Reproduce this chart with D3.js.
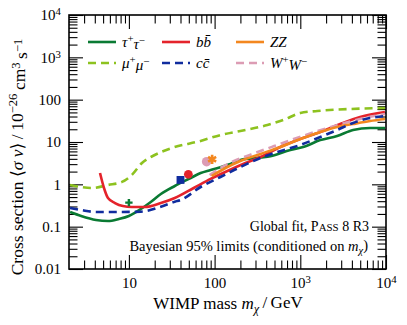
<!DOCTYPE html>
<html>
<head>
<meta charset="utf-8">
<script src="https://cdn.jsdelivr.net/npm/d3@7"></script>
<style>
  body { margin: 0; background: #fff; }
  text { font-family: "Liberation Serif", "DejaVu Serif", serif; }
</style>
</head>
<body>
<script>
const width = 407;
const height = 325;

// les courbes (masse en GeV, section efficace en 1e-26 cm3/s)
const tauMass = [2.06, 2.77, 4.13, 5.7, 7.65, 10, 13.8, 18, 23.6, 34.3, 52.6, 68.7, 89.8, 153, 200, 343, 448, 766, 1080, 1710, 2690, 4130, 6510, 9730];
const tauSv   = [0.222, 0.179, 0.144, 0.136, 0.152, 0.179, 0.261, 0.383, 0.591, 0.914, 1.41, 1.85, 2.18, 3.03, 3.76, 4.3, 4.6, 6.5, 7.6, 11.1, 13.9, 19.2, 21.4, 21.4];

const bbMass = [4.6, 5.12, 5.7, 6.88, 8.51, 10.8, 15.3, 23.6, 34.3, 57, 89.8, 141, 229, 343, 585, 1000, 1710, 2920, 4990, 9730];
const bbSv   = [1.85, 0.82, 0.475, 0.362, 0.307, 0.292, 0.292, 0.362, 0.475, 0.82, 1.34, 2.07, 3.19, 4.42, 7.62, 11.8, 17.2, 26.6, 39.0, 51.2];

const zzMass = [92.3, 134, 200, 343, 585, 1080, 1710, 2690, 4130, 6510, 9730];
const zzSv   = [1.57, 2.43, 3.56, 5.21, 7.62, 12.4, 17.2, 22.6, 26.6, 31.3, 35.0];

const muMass = [2.06, 2.77, 3.72, 5.7, 8.29, 10.8, 14.2, 20, 31.6, 68.7, 117, 200, 413, 634, 1000, 1580, 3810, 9730];
const muSv   = [0.964, 0.865, 0.82, 0.964, 1.14, 1.66, 3.19, 4.93, 7.21, 10.6, 14.6, 18.2, 25.2, 33.1, 48.4, 54.0, 60.2, 63.6];

const ccMass = [2.06, 2.77, 4.13, 7.45, 13.8, 23.6, 34.3, 40.2, 68.7, 117, 200, 343, 541, 1000, 1710, 2690, 4130, 6510, 9730];
const ccSv   = [0.276, 0.248, 0.222, 0.222, 0.226, 0.296, 0.389, 0.427, 0.865, 1.49, 2.57, 4.19, 5.81, 8.49, 13.1, 19.2, 28.1, 36.9, 41.1];

const wwMass = [87.5, 117, 166, 262, 486, 1080, 2690, 4990, 9730];
const wwSv   = [1.65, 2.45, 3.5, 5.0, 7.9, 14.0, 25.0, 35.0, 45.9];

// les meilleurs points (marqueurs)
const bestMass = [10, 40, 49.4, 80.7, 93.6];
const bestSv   = [0.37, 1.27, 1.73, 3.43, 3.9];

const xMajor = [10, 100, 1000, 10000];
const xLabels = ['10', '100', '10^3', '10^4'];
const yMajor = [0.01, 0.1, 1, 10, 100, 1000, 10000];
const yLabels = ['0.01', '0.1', '1', '10', '100', '10^3', '10^4'];

const x = d3.scaleLog().domain([2, 1e4]).range([69, 386]);
const y = d3.scaleLog().domain([0.01, 1e4]).range([269, 15]);

const minors = (lo, hi) => {
    const out = [];
    for (let e = Math.floor(Math.log10(lo)); e < Math.ceil(Math.log10(hi)); e++) {
        for (let k = 2; k <= 9; k++) {
            const v = k * Math.pow(10, e);
            if (v > lo && v < hi) out.push(v);
        }
    }
    return out;
};
const xMinor = minors(2, 1e4);
const yMinor = minors(0.01, 1e4);

const svg = d3.select('body').append('svg')
    .attr('width', width)
    .attr('height', height);

svg.append('clipPath').attr('id', 'clip')
    .append('rect')
    .attr('x', 69).attr('y', 15)
    .attr('width', 317).attr('height', 254);

// exposants en tspan
const supText = (sel, labels, values) => {
    sel.each(function (d) {
        const lab = labels[values.indexOf(d)];
        const t = d3.select(this).text(null);
        const parts = lab.split('^');
        t.append('tspan').text(parts[0]);
        if (parts[1]) t.append('tspan').attr('dy', '-0.45em').attr('font-size', '72%').text(parts[1]);
    });
};

const MAJ = 14;
const MIN = 8.5;

const addAxis = (axisFn, scale, tx, ty, ticks, size, labels) => {
    const ax = axisFn(scale).tickValues(ticks).tickSizeInner(-size).tickSizeOuter(0);
    if (labels) ax.tickPadding(labels.pad); else ax.tickFormat('');
    const g = svg.append('g').attr('transform', `translate(${tx},${ty})`).call(ax);
    g.select('.domain').remove();
    g.selectAll('line').attr('stroke', '#000').attr('stroke-width', 1.1);
    g.selectAll('text').attr('font-size', 15).attr('fill', '#000')
        .attr('font-family', '"Liberation Serif", serif');
    if (labels) supText(g.selectAll('text'), labels.text, labels.values);
    return g;
};

// axe du bas et du haut
addAxis(d3.axisBottom, x, 0, 269, xMajor, MAJ, { pad: 8, text: xLabels, values: xMajor });
addAxis(d3.axisBottom, x, 0, 269, xMinor, MIN);
addAxis(d3.axisTop, x, 0, 15, xMajor, MAJ);
addAxis(d3.axisTop, x, 0, 15, xMinor, MIN);
// axe de gauche et de droite
addAxis(d3.axisLeft, y, 69, 0, yMajor, MAJ, { pad: 8, text: yLabels, values: yMajor });
addAxis(d3.axisLeft, y, 69, 0, yMinor, MIN);
addAxis(d3.axisRight, y, 386, 0, yMajor, MAJ);
addAxis(d3.axisRight, y, 386, 0, yMinor, MIN);

svg.append('rect')
    .attr('x', 69).attr('y', 15)
    .attr('width', 317).attr('height', 254)
    .attr('fill', 'none').attr('stroke', '#000').attr('stroke-width', 1.6);

const series = [
    { name: 'mu', m: muMass, sv: muSv, color: '#8dc21f', dash: '8,5' },
    { name: 'tau', m: tauMass, sv: tauSv, color: '#0a7a33', dash: null },
    { name: 'bb', m: bbMass, sv: bbSv, color: '#e4232b', dash: null },
    { name: 'ww', m: wwMass, sv: wwSv, color: '#dc9cb4', dash: '8,5' },
    { name: 'zz', m: zzMass, sv: zzSv, color: '#f3871f', dash: null },
    { name: 'cc', m: ccMass, sv: ccSv, color: '#102c9e', dash: '8,5' },
];

const line = d3.line()
    .x(d => x(d[0]))
    .y(d => y(d[1]))
    .curve(d3.curveMonotoneX);

const curves = svg.append('g').attr('clip-path', 'url(#clip)');
curves.selectAll('path')
    .data(series)
    .enter()
    .append('path')
    .attr('d', s => line(s.m.map((m, i) => [m, s.sv[i]])))
    .attr('fill', 'none')
    .attr('stroke', s => s.color)
    .attr('stroke-width', 2.6)
    .attr('stroke-dasharray', s => s.dash);

// marqueurs des meilleurs points
const bestStyle = [
    { type: d3.symbolCross, size: 30, color: '#0a7a33' },
    { type: d3.symbolSquare, size: 62, color: '#102c9e' },
    { type: d3.symbolCircle, size: 60, color: '#e4232b' },
    { type: d3.symbolCircle, size: 70, color: '#dc9cb4' },
    { type: d3.symbolAsterisk, size: 60, color: '#f3871f', stroke: true },
];
svg.append('g').selectAll('path')
    .data(bestMass)
    .enter()
    .append('path')
    .attr('transform', (d, i) => `translate(${x(d)},${y(bestSv[i])})`)
    .attr('d', (d, i) => d3.symbol().type(bestStyle[i].type).size(bestStyle[i].size)())
    .attr('fill', (d, i) => bestStyle[i].stroke ? 'none' : bestStyle[i].color)
    .attr('stroke', (d, i) => bestStyle[i].stroke ? bestStyle[i].color : 'none')
    .attr('stroke-width', 2.6);

// la légende
const legendItems = [
    { color: '#0a7a33', dash: null, col: 0, row: 0, label: [['τ', 'i'], ['+', 's'], ['τ', 'i'], ['−', 's']] },
    { color: '#e4232b', dash: null, col: 1, row: 0, label: [['b', 'i'], ['b\u0304', 'i']] },
    { color: '#f3871f', dash: null, col: 2, row: 0, label: [['ZZ', 'i']] },
    { color: '#8dc21f', dash: '8,5', col: 0, row: 1, label: [['μ', 'i'], ['+', 's'], ['μ', 'i'], ['−', 's']] },
    { color: '#102c9e', dash: '8,5', col: 1, row: 1, label: [['c', 'i'], ['c\u0304', 'i']] },
    { color: '#dc9cb4', dash: '8,5', col: 2, row: 1, label: [['W', 'i'], ['+', 's'], ['W', 'i'], ['−', 's']] },
];
const legend = svg.append('g');
legendItems.forEach(it => {
    const lx = 88 + it.col * 74;
    const ly = 42 + it.row * 21;
    legend.append('line')
        .attr('x1', lx).attr('x2', lx + 28)
        .attr('y1', ly).attr('y2', ly)
        .attr('stroke', it.color).attr('stroke-width', 2.6)
        .attr('stroke-dasharray', it.dash);
    const t = legend.append('text')
        .attr('x', lx + 34).attr('y', ly + 5)
        .attr('font-size', 15);
    let up = false;
    it.label.forEach(([s, k]) => {
        const ts = t.append('tspan').text(s);
        if (k === 'i') {
            ts.attr('font-style', 'italic');
            if (up) { ts.attr('dy', '0.45em'); up = false; }
        } else {
            ts.attr('font-size', '72%');
            if (!up) { ts.attr('dy', '-0.45em'); up = true; }
        }
    });
});

// annotations
const note1 = svg.append('text')
    .attr('x', 369).attr('y', 231)
    .attr('text-anchor', 'end')
    .attr('font-size', 14);
note1.append('tspan').text('Global fit, P');
note1.append('tspan').attr('font-size', '78%').text('ASS');
note1.append('tspan').text(' 8 R3');

const note2 = svg.append('text')
    .attr('x', 368).attr('y', 251)
    .attr('text-anchor', 'end')
    .attr('font-size', 14.5);
note2.append('tspan').text('Bayesian 95% limits (conditioned on ');
note2.append('tspan').attr('font-style', 'italic').text('m');
note2.append('tspan').attr('font-style', 'italic').attr('font-size', '72%').attr('dy', '0.3em').text('χ');
note2.append('tspan').attr('dy', '-0.3em').text(')');

// titres des axes
const xt = svg.append('text')
    .attr('x', 228).attr('y', 309)
    .attr('text-anchor', 'middle')
    .attr('font-size', 17);
xt.append('tspan').text('WIMP mass ');
xt.append('tspan').attr('font-style', 'italic').text('m');
xt.append('tspan').attr('font-style', 'italic').attr('font-size', '72%').attr('dy', '0.3em').text('χ');
xt.append('tspan').attr('dy', '-0.3em').text('\u2009/\u2009GeV');

const yt = svg.append('text')
    .attr('transform', 'translate(23,157) rotate(-90)')
    .attr('text-anchor', 'middle')
    .attr('font-size', 17.5);
yt.append('tspan').text('Cross section ⟨');
yt.append('tspan').attr('font-style', 'italic').text('σ v');
yt.append('tspan').text('⟩\u2009/\u200910');
yt.append('tspan').attr('font-size', '72%').attr('dy', '-0.45em').text('−26');
yt.append('tspan').attr('dy', '0.45em').text('\u2009cm');
yt.append('tspan').attr('font-size', '72%').attr('dy', '-0.45em').text('3');
yt.append('tspan').attr('dy', '0.45em').text('\u2009s');
yt.append('tspan').attr('font-size', '72%').attr('dy', '-0.45em').text('−1');
</script>
</body>
</html>
